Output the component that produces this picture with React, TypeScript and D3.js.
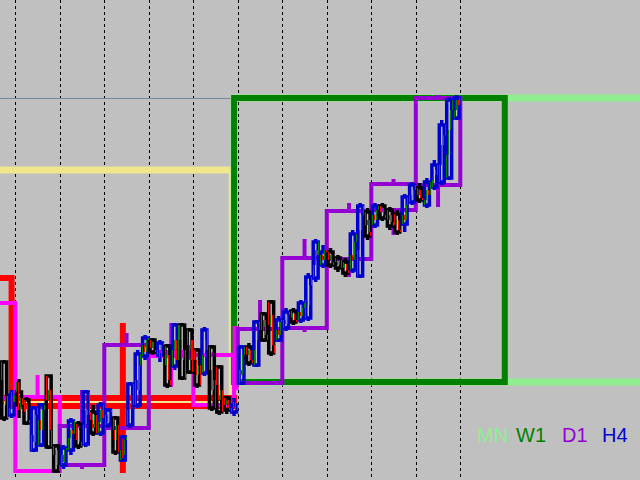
import React from 'react';
import * as d3 from 'd3';

const W = 640;
const H = 480;

// Time in hours from Monday 00:00 of the first full week; prices in USD.
// [start, end, open, high, low, close]
const MN_CANDLES: number[][] = [
  [-400, 117, 2330, 2345, 2020, 2098],
  [118, 400, 2118, 2404, 2117, 2402],
];
const W1_CANDLES: number[][] = [
  [-170, -2, 2222, 2230, 2095, 2102],
  [-2, 118, 2102, 2177, 2027, 2094],
  [118, 264, 2118, 2404, 2117, 2402],
];
const D1_CANDLES: number[][] = [
  [-24, 0, 2197, 2208, 2100, 2102],
  [0, 24, 2103, 2125, 2028, 2029],
  [24, 48, 2035, 2110, 2031, 2074],
  [48, 72, 2072, 2167, 2070, 2155],
  [72, 96, 2148, 2177, 2113, 2144],
  [96, 118, 2145, 2148, 2092, 2095],
  [118.3, 119.3, 2172, 2173, 2110, 2112],
  [120, 144, 2117, 2200, 2116, 2171],
  [144, 168, 2172, 2261, 2168, 2242],
  [168, 192, 2241, 2297, 2223, 2289],
  [192, 216, 2290, 2321, 2265, 2316],
  [216, 240, 2315, 2405, 2293, 2402],
];
// H4: [start, open, high, low, close]
const H4_CANDLES: number[][] = [
  [-8, 2138, 2140, 2079, 2082], [-4, 2085, 2110, 2082, 2105],
  [0, 2108, 2121, 2082, 2095], [4, 2100, 2103, 2075, 2077], [8, 2050, 2094, 2048, 2092],
  [12, 2055, 2097, 2053, 2095], [16, 2124, 2125, 2051, 2053], [20, 2054, 2056, 2027, 2029],
  [24, 2035, 2055, 2031, 2052], [28, 2050, 2082, 2045, 2079], [32, 2076, 2079, 2051, 2054],
  [36, 2056, 2110, 2053, 2108], [40, 2088, 2095, 2064, 2067], [44, 2067, 2098, 2064, 2095],
  [48, 2075, 2092, 2072, 2090], [52, 2082, 2084, 2045, 2048], [56, 2040, 2065, 2038, 2063],
  [60, 2075, 2118, 2072, 2116], [64, 2095, 2150, 2092, 2146], [68, 2144, 2165, 2140, 2162],
  [72, 2160, 2162, 2145, 2148], [76, 2145, 2160, 2138, 2157], [80, 2154, 2156, 2112, 2115],
  [84, 2134, 2177, 2130, 2175], [88, 2175, 2177, 2120, 2122], [92, 2170, 2172, 2126, 2128],
  [96, 2150, 2152, 2112, 2115], [100, 2127, 2173, 2124, 2170], [104, 2153, 2155, 2089, 2092],
  [108, 2133, 2135, 2085, 2088], [112, 2102, 2104, 2086, 2090], [116, 2088, 2102, 2084, 2095],
  [120, 2117, 2155, 2115, 2153], [124, 2153, 2157, 2134, 2137], [128, 2135, 2180, 2133, 2178],
  [132, 2186, 2188, 2158, 2160], [136, 2198, 2200, 2144, 2147], [140, 2160, 2184, 2158, 2180],
  [144, 2172, 2192, 2169, 2188], [148, 2189, 2192, 2175, 2178], [152, 2180, 2200, 2177, 2197],
  [156, 2182, 2227, 2179, 2223], [160, 2222, 2261, 2218, 2258], [164, 2235, 2255, 2232, 2248],
  [168, 2248, 2252, 2232, 2235], [172, 2242, 2245, 2228, 2232], [176, 2238, 2242, 2223, 2227],
  [180, 2230, 2270, 2227, 2266], [184, 2224, 2297, 2222, 2294], [188, 2288, 2292, 2260, 2264],
  [192, 2275, 2297, 2272, 2294], [196, 2294, 2297, 2279, 2282], [200, 2290, 2293, 2270, 2274],
  [204, 2286, 2290, 2265, 2268], [208, 2276, 2306, 2268, 2303], [212, 2298, 2318, 2295, 2315],
  [216, 2312, 2317, 2297, 2300], [220, 2295, 2322, 2292, 2318], [224, 2313, 2340, 2310, 2335],
  [228, 2318, 2380, 2315, 2375], [232, 2322, 2403, 2320, 2400], [236, 2382, 2405, 2380, 2402],
];
// H1 closes inside each H4 (first three hours; the fourth closes with the H4)
const H1_CLOSES: number[][] = [
  [2120, 2095, 2104], [2092, 2108, 2098],
  [2118, 2090, 2102], [2088, 2095, 2080], [2065, 2058, 2085],
  [2080, 2070, 2090], [2100, 2110, 2070], [2045, 2050, 2035],
  [2045, 2038, 2050], [2062, 2070, 2066], [2060, 2070, 2058],
  [2075, 2090, 2085], [2080, 2072, 2085], [2078, 2090, 2082],
  [2085, 2078, 2088], [2070, 2060, 2075], [2050, 2045, 2060],
  [2090, 2100, 2095], [2120, 2110, 2135], [2155, 2148, 2160],
  [2152, 2158, 2150], [2150, 2142, 2155], [2135, 2145, 2120],
  [2150, 2160, 2140], [2160, 2140, 2150], [2155, 2140, 2160],
  [2140, 2125, 2135], [2145, 2160, 2150], [2130, 2110, 2120],
  [2115, 2100, 2110], [2095, 2100, 2092], [2092, 2098, 2090],
  [2130, 2125, 2145], [2145, 2150, 2140], [2150, 2160, 2170],
  [2170, 2180, 2165], [2175, 2185, 2155], [2170, 2165, 2178],
  [2180, 2176, 2185], [2182, 2186, 2180], [2188, 2184, 2192],
  [2200, 2195, 2215], [2235, 2250, 2245], [2245, 2240, 2250],
  [2240, 2245, 2238], [2238, 2235, 2240], [2232, 2236, 2230],
  [2245, 2240, 2258], [2250, 2270, 2285], [2275, 2280, 2268],
  [2285, 2280, 2290], [2288, 2292, 2285], [2280, 2285, 2278],
  [2275, 2280, 2270], [2285, 2280, 2295], [2305, 2300, 2310],
  [2305, 2310, 2302], [2300, 2310, 2305], [2320, 2330, 2325],
  [2335, 2355, 2365], [2345, 2370, 2390], [2390, 2400, 2395],
];
const DAY_SEPARATORS = [0, 24, 48, 72, 96, 120, 144, 168, 192, 216, 240];
const BID = 2402;
const LEGEND = ['MN', 'W1', 'D1', 'H4'];

const x = d3.scaleLinear().domain([0, 240]).range([15.3, 460.3]);
const y = d3.scaleLinear().domain([2020, 2500]).range([H, 0]);

function Candle(props: { s: number; e: number; o: number; h: number; l: number; c: number; color: string; sw: number; inset: number }) {
  const { s, e, o, h, l, c, color, sw, inset } = props;
  const x0 = x(s) + inset;
  const x1 = x(e) - inset;
  const top = y(Math.max(o, c));
  const bot = y(Math.min(o, c));
  const cx = (x(s) + x(e)) / 2;
  return (
    <g>
      {h > Math.max(o, c) && <line x1={cx} x2={cx} y1={y(h)} y2={top} stroke={color} strokeWidth={sw} />}
      {l < Math.min(o, c) && <line x1={cx} x2={cx} y1={bot} y2={y(l)} stroke={color} strokeWidth={sw} />}
      <rect x={x0} y={top} width={Math.max(0.1, x1 - x0)} height={Math.max(0.1, bot - top)} fill="none" stroke={color} strokeWidth={sw} />
    </g>
  );
}

export default function App() {
  const tfs = [
    { data: MN_CANDLES, bull: '#90EE90', bear: '#F0E68C', sw: 7, inset: 0 },
    { data: W1_CANDLES, bull: '#008000', bear: '#FF0000', sw: 6, inset: 0 },
    { data: D1_CANDLES, bull: '#9400D3', bear: '#FF00FF', sw: 4, inset: 0 },
  ];
  const legendColors = ['#90EE90', '#008000', '#9400D3', '#0000CD'];
  const legendX = [477, 516, 562, 602];

  const h1Lines: { xx: number; y1: number; y2: number; col: string }[] = [];
  H4_CANDLES.forEach((k, i) => {
    const [t, o, , , c] = k;
    const closes = [...H1_CLOSES[i], c];
    let prev = o;
    closes.forEach((cl, j) => {
      if (cl !== prev) {
        h1Lines.push({ xx: x(t + j + 0.5), y1: y(prev), y2: y(cl), col: cl > prev ? '#008000' : '#FF0000' });
      }
      prev = cl;
    });
  });

  return (
    <svg width={W} height={H} style={{ position: 'absolute', left: 0, top: 0, display: 'block' }}>
      <rect x={0} y={0} width={W} height={H} fill="#C0C0C0" />
      {DAY_SEPARATORS.map((t) => (
        <line key={t} x1={Math.round(x(t)) + 0.5} x2={Math.round(x(t)) + 0.5} y1={0} y2={H} stroke="#000" strokeWidth={1} strokeDasharray="3,3" />
      ))}
      <line x1={0} x2={W} y1={Math.round(y(BID)) + 0.5} y2={Math.round(y(BID)) + 0.5} stroke="#778899" strokeWidth={1} />
      {tfs.map((tf, ti) => (
        <g key={ti}>
          {tf.data.map((d, i) => (
            <Candle key={i} s={d[0]} e={d[1]} o={d[2]} h={d[3]} l={d[4]} c={d[5]} color={d[5] >= d[2] ? tf.bull : tf.bear} sw={tf.sw} inset={tf.inset} />
          ))}
        </g>
      ))}
      <g>
        {H4_CANDLES.map((d, i) => (
          <Candle key={i} s={d[0]} e={d[0] + 4} o={d[1]} h={d[2]} l={d[3]} c={d[4]} color={d[4] >= d[1] ? '#0000CD' : '#000000'} sw={3.5} inset={1.25} />
        ))}
      </g>
      <g>
        {h1Lines.map((l, i) => (
          <line key={i} x1={Math.round(l.xx) + 0.5} x2={Math.round(l.xx) + 0.5} y1={l.y1} y2={l.y2} stroke={l.col} strokeWidth={1} />
        ))}
      </g>
      {LEGEND.map((s, i) => (
        <text key={s} x={legendX[i]} y={442} fill={legendColors[i]} fontFamily="'Liberation Sans', Arial, sans-serif" fontSize={20}>
          {s}
        </text>
      ))}
    </svg>
  );
}
